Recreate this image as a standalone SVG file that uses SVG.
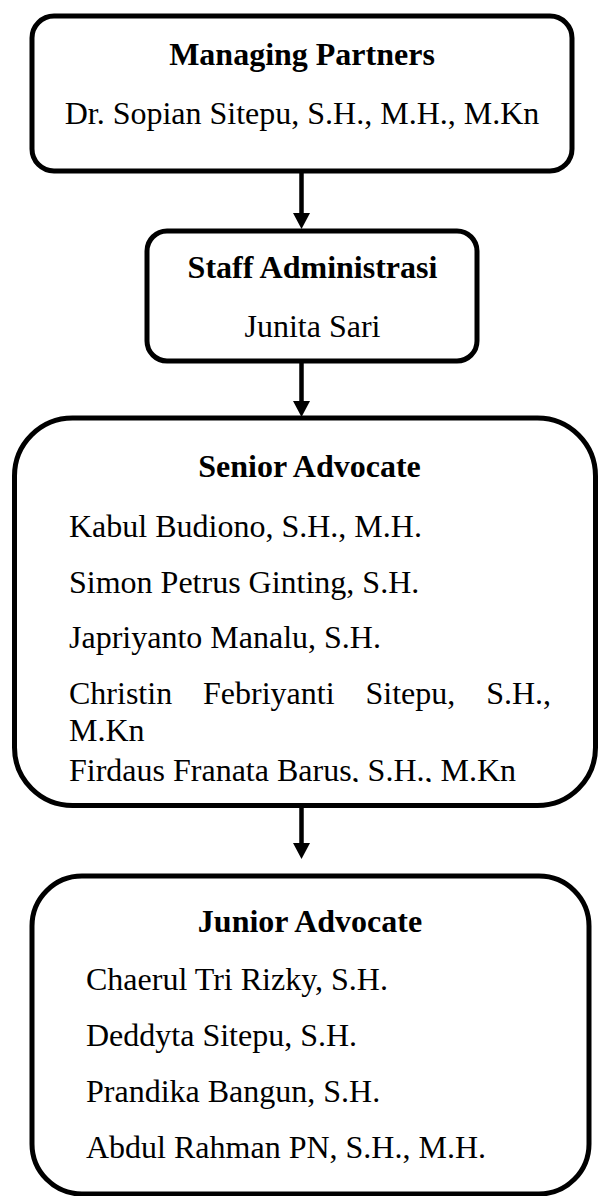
<svg xmlns="http://www.w3.org/2000/svg" width="598" height="1196" viewBox="0 0 598 1196">
<style>
.box{fill:#fff;stroke:#000;stroke-width:5}
.t{font-family:"Liberation Serif","Times New Roman",serif;font-size:32px;fill:#000}
.b{font-weight:bold}
.c{text-anchor:middle}
.ln{stroke:#000;stroke-width:4.5;fill:none}
.hd{fill:#000}
</style>
<defs>
<clipPath id="clipSenior"><rect x="0" y="418" width="598" height="364"/></clipPath>
</defs>
<rect width="598" height="1196" fill="#fff"/>
<g id="connectors">
<line class="ln" x1="301.5" y1="172" x2="301.5" y2="214"/>
<polygon class="hd" points="293,213 310,213 301.5,229"/>
<line class="ln" x1="301.5" y1="362" x2="301.5" y2="402"/>
<polygon class="hd" points="293,401 310,401 301.5,417"/>
<line class="ln" x1="301.5" y1="806" x2="301.5" y2="844"/>
<polygon class="hd" points="293,843 310,843 301.5,859"/>
</g>
<g id="managing-partners">
<rect class="box" x="32" y="16" width="540" height="155" rx="22"/>
<text class="t b c" x="302" y="65">Managing Partners</text>
<text class="t c" x="302" y="124">Dr. Sopian Sitepu, S.H., M.H., M.Kn</text>
</g>
<g id="staff-administrasi">
<rect class="box" x="147" y="231" width="330" height="130" rx="20"/>
<text class="t b c" x="312.5" y="278">Staff Administrasi</text>
<text class="t c" x="312.5" y="337">Junita Sari</text>
</g>
<g id="senior-advocate">
<rect class="box" x="14.5" y="418" width="581" height="387.5" rx="58"/>
<text class="t b c" x="309.5" y="477">Senior Advocate</text>
<text class="t" x="69" y="537">Kabul Budiono, S.H., M.H.</text>
<text class="t" x="69" y="593">Simon Petrus Ginting, S.H.</text>
<text class="t" x="69" y="648">Japriyanto Manalu, S.H.</text>
<text class="t" y="704"><tspan x="69">Christin</tspan><tspan x="203">Febriyanti</tspan><tspan x="365.5">Sitepu,</tspan><tspan x="486.2">S.H.,</tspan></text>
<text class="t" x="69" y="741">M.Kn</text>
<text class="t" x="69" y="781" clip-path="url(#clipSenior)">Firdaus Franata Barus, S.H., M.Kn</text>
</g>
<g id="junior-advocate">
<rect class="box" x="32" y="876" width="557" height="318" rx="50"/>
<text class="t b c" x="310" y="932">Junior Advocate</text>
<text class="t" x="86" y="990">Chaerul Tri Rizky, S.H.</text>
<text class="t" x="86" y="1046">Deddyta Sitepu, S.H.</text>
<text class="t" x="86" y="1102">Prandika Bangun, S.H.</text>
<text class="t" x="86" y="1158">Abdul Rahman PN, S.H., M.H.</text>
</g>
</svg>
